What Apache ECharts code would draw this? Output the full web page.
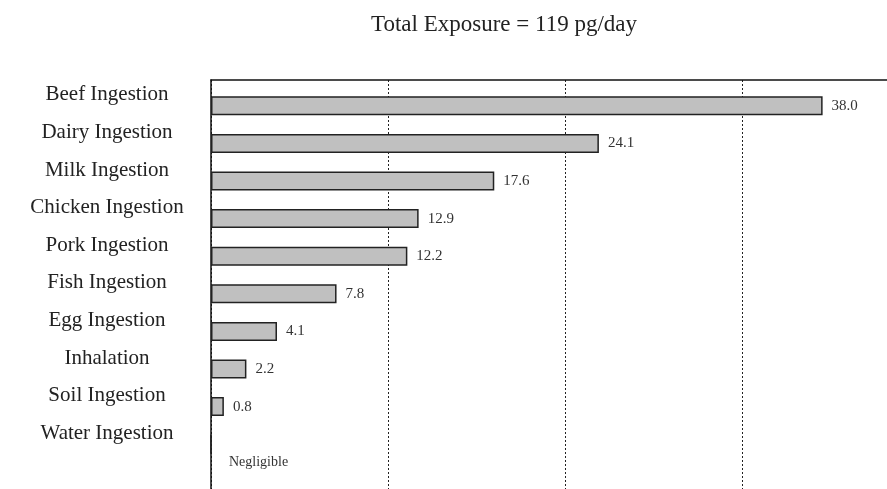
<!DOCTYPE html>
<html>
<head>
<meta charset="utf-8">
<script src="https://cdn.jsdelivr.net/npm/echarts@6/dist/echarts.min.js"></script>
<style>
  html, body { margin: 0; padding: 0; background: #fff; }
  #chart { width: 887px; height: 489px; }
</style>
</head>
<body>
<div id="chart"></div>
<script>
var titleText = 'Total Exposure = 119 pg/day';
var categories = ['Beef Ingestion', 'Dairy Ingestion', 'Milk Ingestion', 'Chicken Ingestion',
  'Pork Ingestion', 'Fish Ingestion', 'Egg Ingestion', 'Inhalation', 'Soil Ingestion', 'Water Ingestion'];
var values = [38.0, 24.1, 17.6, 12.9, 12.2, 7.8, 4.1, 2.2, 0.8, 0];
var zeroLabel = 'Negligible';

var FONT = '"Liberation Serif", "DejaVu Serif", serif';
var AX_MIN = 0, AX_MAX = 42, AX_INT = 11;

var chart = echarts.init(document.getElementById('chart'), null, { renderer: 'canvas' });
chart.setOption({
  animation: false,
  backgroundColor: '#ffffff',
  title: {
    text: titleText,
    left: 366, top: 8,
    textStyle: { fontFamily: FONT, fontSize: 23, fontWeight: 'normal', color: '#222' }
  },
  grid: [
    { left: 211, right: 0, top: 87, height: 376, containLabel: false },
    { left: 211, right: 0, top: 80, bottom: 0, containLabel: false }
  ],
  xAxis: [
    {
      gridIndex: 0, type: 'value', min: AX_MIN, max: AX_MAX, interval: AX_INT,
      axisLine: { show: false }, axisTick: { show: false }, axisLabel: { show: false },
      splitLine: { show: false }
    },
    {
      gridIndex: 1, type: 'value', min: AX_MIN, max: AX_MAX, interval: AX_INT, position: 'top',
      axisLine: { show: true, onZero: false, lineStyle: { color: '#111', width: 1.5 } },
      axisTick: { show: false }, axisLabel: { show: false },
      splitLine: { show: true, lineStyle: { color: '#222', width: 1, type: [2, 2] } }
    }
  ],
  yAxis: [
    {
      gridIndex: 0, type: 'category', inverse: true, data: categories,
      axisLine: { show: false }, axisTick: { show: false },
      axisLabel: {
        show: true, margin: 104, align: 'center', verticalAlign: 'bottom',
        lineHeight: 22,
        fontFamily: FONT, fontSize: 21, color: '#222'
      },
      splitLine: { show: false }
    },
    {
      gridIndex: 1, type: 'value', min: 0, max: 1,
      axisLine: { show: true, onZero: false, lineStyle: { color: '#111', width: 1.5 } },
      axisTick: { show: false }, axisLabel: { show: false }, splitLine: { show: false }
    }
  ],
  series: [
    {
      type: 'bar', xAxisIndex: 0, yAxisIndex: 0,
      data: values, barWidth: 19,
      itemStyle: { color: '#c0c0c0', borderColor: '#222', borderWidth: 1.5 },
      label: {
        show: true, position: 'right', distance: 9,
        fontFamily: FONT, fontSize: 15, color: '#333',
        formatter: function (p) { return p.value === 0 ? '' : p.value.toFixed(1); }
      }
    },
    {
      type: 'bar', xAxisIndex: 0, yAxisIndex: 0, barGap: '-100%',
      data: values.map(function (v) { return v === 0 ? 0 : '-'; }),
      barWidth: 19,
      itemStyle: { color: 'transparent' },
      label: {
        show: true, position: 'right', distance: 18, offset: [0, 18],
        fontFamily: FONT, fontSize: 14, color: '#333',
        formatter: function (p) { return p.value === 0 ? zeroLabel : ''; }
      }
    }
  ]
});
</script>
</body>
</html>
